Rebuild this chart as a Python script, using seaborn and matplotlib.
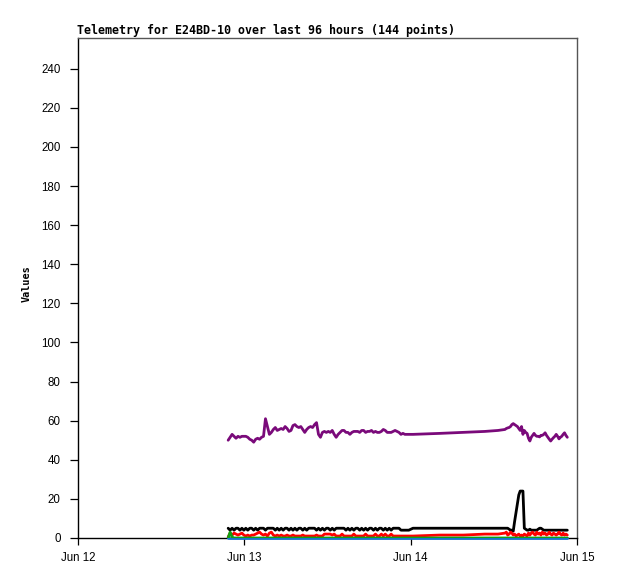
import matplotlib
matplotlib.use("Agg")
import matplotlib.pyplot as plt
import matplotlib.dates as mdates
import matplotlib.colors as mcolors
import seaborn as sns
import pandas as pd
import numpy as np

# ---------------- data ----------------
title = "Telemetry for E24BD-10 over last 96 hours (144 points)"
y_label = "Values"
y_ticks = [0, 20, 40, 60, 80, 100, 120, 140, 160, 180, 200, 220, 240]
x_start = "2024-06-12 00:00"
x_end = "2024-06-15 00:00"

# sample times: dense run, a sparse stretch, a second dense run
times_run1 = pd.date_range("2024-06-12 21:40", periods=93, freq="17min")
times_gap = pd.to_datetime(["2024-06-14 00:20", "2024-06-14 04:12",
                            "2024-06-14 07:36", "2024-06-14 10:42",
                            "2024-06-14 12:36"])
times_run2 = pd.date_range("2024-06-14 13:36", periods=46, freq="12min")

purple_run1 = [50, 51.5, 53, 52, 51, 52, 51.5, 52, 52, 52,
               51.5, 50.5, 50, 49, 50.5, 51, 50.5, 51.5, 52, 61,
               57, 53, 54, 55.5, 56.5, 55, 55.5, 56, 55.5, 57,
               56, 54.5, 55, 57.5, 58, 57, 56.5, 57, 55.5, 54,
               55.5, 56.5, 57, 56.5, 58, 59, 53, 51.5, 54, 54.5,
               54, 54.5, 54, 55, 53, 51.5, 53, 54, 55, 55,
               54, 54, 53, 54, 54.5, 54.5, 54.5, 54, 55, 55,
               54, 54.5, 54.5, 55, 54, 54.5, 54, 54, 54.5, 55.5,
               55, 54, 54, 54, 54.5, 55, 54.5, 54, 53, 53.5,
               53, 53, 53]
purple_gap = [53, 53.5, 54, 54.5, 55]
purple_run2 = [55.5, 56, 56.3, 56.5, 57, 58, 58.5, 58, 57.5, 57,
               56, 55, 57, 53, 55, 54, 53.5, 51, 49.6, 51.5,
               52.5, 53.5, 52.5, 52, 52, 51.7, 52.5, 52.5, 53, 53.8,
               52.5, 51.5, 50.5, 49.6, 50.5, 51.3, 52, 53, 52, 50.7,
               51.5, 52, 53, 53.8, 52.5, 51.5]

black_run1 = [5, 4, 5, 4, 5, 5, 4, 5, 4, 5,
              4, 5, 5, 4, 5, 4, 5, 5, 5, 4,
              5, 5, 5, 5, 4, 5, 4, 5, 4, 5,
              5, 4, 5, 4, 5, 4, 5, 5, 4, 5,
              4, 5, 5, 5, 5, 4, 5, 4, 5, 4,
              5, 5, 4, 5, 4, 5, 5, 5, 5, 5,
              4, 5, 4, 5, 4, 5, 5, 4, 5, 4,
              5, 4, 5, 5, 4, 5, 4, 5, 5, 4,
              5, 4, 5, 4, 5, 5, 5, 5, 4, 4,
              4, 4, 4]
black_gap = [5, 5, 5, 5, 5]
black_run2 = [5, 5, 5, 4.5, 4, 4, 3.5, 8.5, 13, 17.5,
              22, 24, 24, 24, 5, 4.5, 4, 4, 4.5, 4,
              4, 4, 4, 4, 4.5, 5, 5, 4.5, 4, 4,
              4, 4, 4, 4, 4, 4, 4, 4, 4, 4,
              4, 4, 4, 4, 4, 4]

red_run1 = [0.5, 2.5, 1.5, 2.5, 2, 1.5, 2, 2.5, 1.5, 1,
            1.5, 1, 1.5, 1.5, 2, 2.5, 3, 2, 1.5, 2,
            1, 2.5, 3, 1.5, 1, 1.5, 1, 1.5, 1, 1,
            1.5, 1, 1, 1.5, 1, 1, 1, 1, 1.5, 1,
            1, 1, 1, 1, 1, 1.5, 1, 1, 1, 2,
            2, 2, 2, 1.5, 2, 1, 1, 1, 2, 1,
            1, 1, 1, 1, 2, 1, 1, 1, 1, 1,
            2, 1, 1, 1, 1, 2, 1, 1, 2, 1,
            2, 1, 1, 2, 1, 1, 1, 1, 1, 1,
            1, 1, 1]
red_gap = [1, 1.5, 1.5, 2, 2]
red_run2 = [2.5, 3, 1.5, 2, 3, 2.5, 1.5, 2, 1, 1.5,
            2, 1, 1.5, 1, 2, 1.5, 1, 2.5, 1.5, 2.5,
            3, 2, 1.5, 3, 2, 2.5, 1.5, 3, 2, 2.5,
            1.5, 2, 3, 2, 1.5, 2.5, 2, 1.5, 2, 3,
            2, 1.5, 2.5, 1.5, 2, 1.5]

green_values = [0.0, 3.0, 0.5] + [0.0] * 141
blue_values = [0.0] * 144

series_names = ["purple", "black", "blue", "red", "green"]
series_colors = {"purple": "#7a0a7a", "black": "#000000", "red": "#ff0000",
                 "blue": "#1874cd", "green": "#12a012"}

# ---------------- build table ----------------
times = list(times_run1) + list(times_gap) + list(times_run2)
values = {
    "purple": purple_run1 + purple_gap + purple_run2,
    "black": black_run1 + black_gap + black_run2,
    "red": red_run1 + red_gap + red_run2,
    "green": green_values,
    "blue": blue_values,
}
frames = []
for name in series_names:
    frames.append(pd.DataFrame({"time": times, "value": values[name],
                                "series": name}))
df = pd.concat(frames, ignore_index=True)

# ---------------- plot ----------------
sns.set_theme(style="white")
plt.rcParams["font.family"] = ["Liberation Sans", "DejaVu Sans"]
plt.rcParams["text.color"] = "black"
plt.rcParams["xtick.color"] = "black"
plt.rcParams["ytick.color"] = "black"
plt.rcParams["axes.labelcolor"] = "black"

fig = plt.figure(figsize=(6.18, 5.79), dpi=100)
ax = fig.add_axes([78 / 618, 41 / 579, 499 / 618, 500 / 579])

sns.lineplot(data=df, x="time", y="value", hue="series",
             hue_order=series_names, palette=series_colors,
             linewidth=2.0, legend=False, ax=ax, estimator=None, sort=True)

# let the zero-level (blue) line sit on top of the baseline spine
blue_rgb = mcolors.to_rgb(series_colors["blue"])
for line in ax.lines:
    c = mcolors.to_rgb(line.get_color())
    if np.allclose(c, blue_rgb):
        line.set_clip_on(False)
        line.set_zorder(2.6)
    elif np.allclose(c, mcolors.to_rgb(series_colors["red"])) or \
            np.allclose(c, mcolors.to_rgb(series_colors["green"])):
        line.set_zorder(2.7)

ax.set_xlim(pd.Timestamp(x_start), pd.Timestamp(x_end))
ax.set_ylim(0, 255.7)
ax.set_yticks(y_ticks)
ax.xaxis.set_major_locator(mdates.DayLocator())
ax.xaxis.set_major_formatter(mdates.DateFormatter("%b %d"))

for side in ["left", "bottom"]:
    ax.spines[side].set_color("black")
    ax.spines[side].set_linewidth(1.0)
for side in ["top", "right"]:
    ax.spines[side].set_color("#555555")
    ax.spines[side].set_linewidth(1.0)

ax.tick_params(axis="y", direction="out", length=6, width=0.9,
               color="black", labelcolor="black", pad=6.5, labelsize=8.3,
               left=True)
ax.tick_params(axis="x", direction="out", length=5, width=0.9,
               color="black", labelcolor="black", pad=5, labelsize=8.3,
               bottom=True)

ax.set_xlabel("")
ax.set_ylabel(y_label, fontfamily="DejaVu Sans Mono", fontweight="bold",
              fontsize=7.3, color="black")
ax.yaxis.set_label_coords(-0.092, 0.508)
ax.set_title(title, loc="left", fontfamily="DejaVu Sans Mono",
             fontweight="bold", fontsize=8.4, pad=3, x=-0.003,
             color="black")

fig.savefig("out.png", dpi=100)
